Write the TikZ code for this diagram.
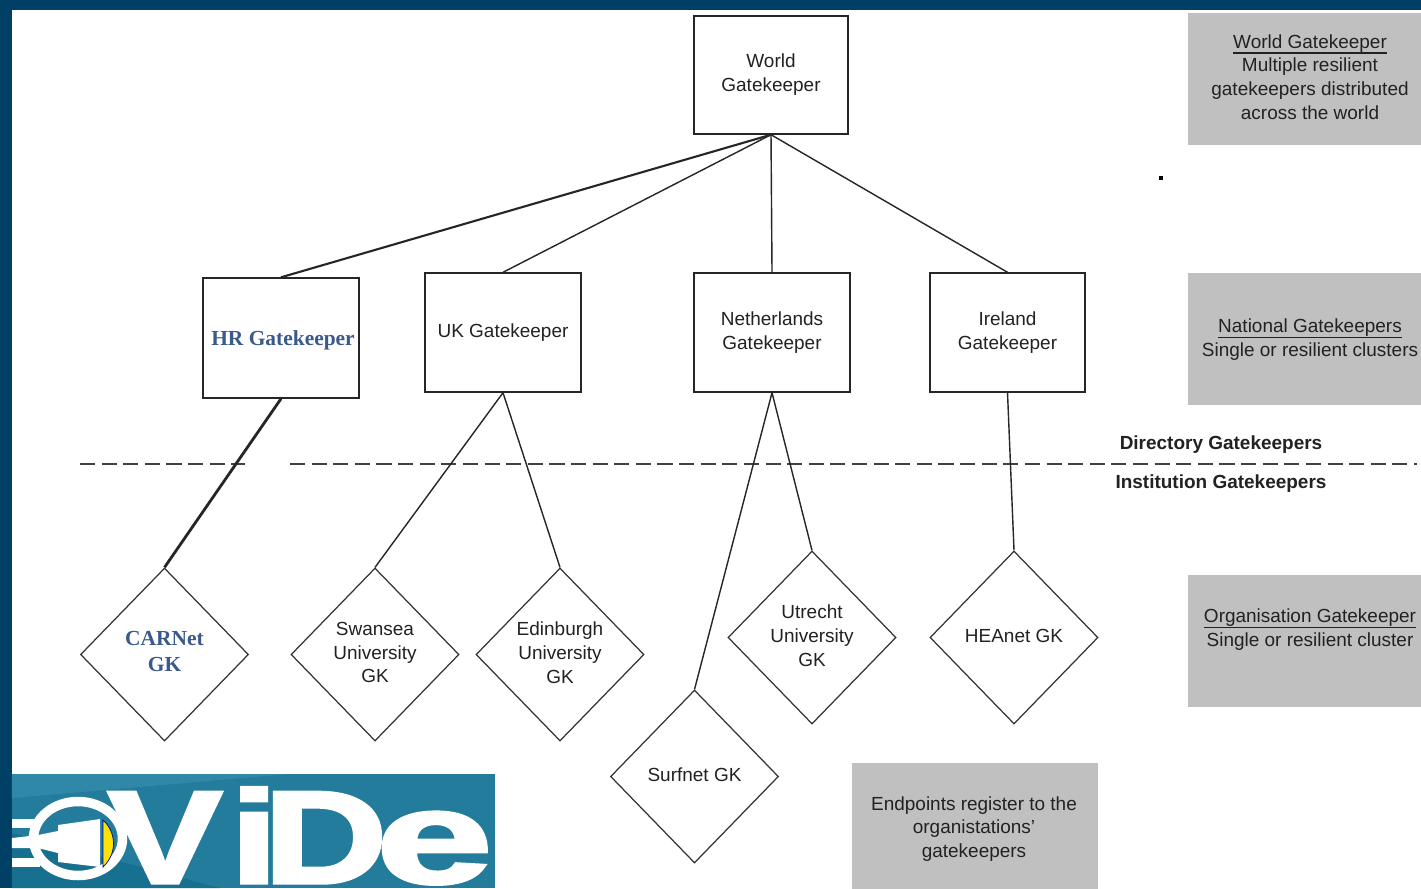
\documentclass[tikz,border=0pt]{standalone}
\usepackage{fontspec}
\setmainfont{Liberation Sans}
\newfontfamily\serifbold[Ligatures=TeX]{Liberation Serif}
\newfontfamily\logofont[FakeBold=2.5]{Liberation Sans Bold}
\usetikzlibrary{shapes.geometric}
\definecolor{framecol}{HTML}{003F66}
\definecolor{inkcol}{HTML}{222222}
\definecolor{notecol}{HTML}{C0C0C0}
\definecolor{hrcol}{HTML}{3A5A8C}
\definecolor{logocol}{HTML}{237C9C}
\definecolor{logolight}{HTML}{3088A8}
\definecolor{logodark}{HTML}{17708F}
\newcommand{\ruled}[1]{\underline{\smash{#1}}}
\newcommand{\lift}{\\[-5.6pt]\mbox{}}
\begin{document}
\begin{tikzpicture}
	[	box/.style={rectangle,draw=black!85,fill=white,line width=.4pt,minimum width=1.55cm,minimum height=1.19cm,inner sep=0pt,align=center,text=inkcol,font=\fontsize{5.4}{6.8}\selectfont},
	gk/.style={diamond,draw=black!80,fill=white,line width=.35pt,minimum width=1.68cm,minimum height=1.73cm,inner sep=0pt,align=center,text=inkcol,font=\fontsize{5.4}{6.8}\selectfont},
	note/.style={rectangle,draw=none,fill=notecol,inner sep=0pt},
	plain/.style={draw=none,fill=none,inner sep=0pt,align=center,text=inkcol,font=\fontsize{5.4}{6.8}\selectfont},
	hr/.style={text=hrcol,font=\fontsize{6.1}{7.4}\selectfont\serifbold\bfseries},
	link/.style={draw=black!85,line width=.4pt},
	tier/.style={draw=black!75,line width=.7pt,dash pattern=on 4.3pt off 1.85pt}
	]
	\useasboundingbox (0,0) rectangle (14.21,8.88);
	\clip (0,0) rectangle (14.21,8.88);
	\fill[framecol] (0,0) rectangle (14.21,8.88);
	\fill[white] (.12,0) rectangle (14.21,8.78);

	% grey notes
	\node[note,minimum width=2.44cm,minimum height=1.32cm] (noteworld) at (13.10,8.09){};
	\node[note,minimum width=2.44cm,minimum height=1.32cm] (notenat) at (13.10,5.49){};
	\node[note,minimum width=2.44cm,minimum height=1.32cm] (noteorg) at (13.10,2.47){};
	\node[note,minimum width=2.46cm,minimum height=1.40cm] (noteend) at (9.75,.55){};
	\node[plain] (textworld) at (13.10,8.04){\ruled{World Gatekeeper}\\Multiple resilient\\gatekeepers distributed\\across the world};
	\node[plain] (textnat) at (13.10,5.415){\ruled{National Gatekeepers}\\Single or resilient clusters};
	\node[plain] (textorg) at (13.10,2.515){\ruled{Organisation Gatekeeper}\\Single or resilient cluster};
	\node[plain] (textend) at (9.74,.59){Endpoints register to the\\organistations'\\gatekeepers};
	\node[draw=none,fill=black,minimum size=.04cm,inner sep=0pt] (speck) at (11.61,7.10){};

	% tier lines
	\coordinate (tierA) at (.80,4.24);
	\coordinate (tierB) at (2.45,4.24);
	\coordinate (tierC) at (2.90,4.24);
	\coordinate (tierD) at (14.17,4.24);
	\draw[tier] (tierA) -- (tierB);
	\draw[tier] (tierC) -- (tierD);
	\node[plain,font=\fontsize{5.4}{6.8}\selectfont\bfseries] (dirlabel) at (12.21,4.43){Directory Gatekeepers};
	\node[plain,font=\fontsize{5.4}{6.8}\selectfont\bfseries] (instlabel) at (12.21,4.04){Institution Gatekeepers};

	% gatekeepers
	\node[box,minimum width=1.54cm,minimum height=1.18cm] (world) at (7.71,8.13){World\\Gatekeeper};
	\node[box,minimum width=1.56cm,minimum height=1.20cm] (hrgk) at (2.81,5.50){};
	\node[plain,hr] (hrtext) at (2.83,5.48){HR Gatekeeper};
	\node[box,minimum width=1.56cm] (uk) at (5.03,5.555){UK Gatekeeper};
	\node[box,minimum width=1.56cm] (nl) at (7.72,5.555){Netherlands\\Gatekeeper};
	\node[box,minimum width=1.55cm] (ie) at (10.075,5.555){Ireland\\Gatekeeper};

	\node[gk,hr] (carnet) at (1.645,2.335){CARNet\\GK\lift};
	\node[gk] (swansea) at (3.75,2.335){Swansea\\University\\GK\lift};
	\node[gk] (edinburgh) at (5.60,2.335){Edinburgh\\University\\GK\lift};
	\node[gk] (utrecht) at (8.12,2.505){Utrecht\\University\\GK\lift};
	\node[gk] (heanet) at (10.14,2.505){HEAnet GK\lift};
	\node[gk] (surfnet) at (6.945,1.115){Surfnet GK\lift};

	% links
	\draw[link,line width=.6pt] (world.south) -- (hrgk.north);
	\draw[link] (world.south) -- (uk.north);
	\draw[link] (world.south) -- (nl.north);
	\draw[link] (world.south) -- (ie.north);
	\draw[link,line width=.8pt] (hrgk.south) -- (carnet.north);
	\draw[link] (uk.south) -- (swansea.north);
	\draw[link] (uk.south) -- (edinburgh.north);
	\draw[link] (nl.south) -- (surfnet.north);
	\draw[link] (nl.south) -- (utrecht.north);
	\draw[link] (ie.south) -- (heanet.north);

	% logo
	\begin{scope}
	\clip (.12,0) rectangle (4.95,1.14);
	\fill[logocol] (.12,0) rectangle (4.95,1.14);
	\fill[logodark] (.12,0) -- (2.2,0) -- (.12,.55) -- cycle;
	\fill[logolight] (.12,.90) -- (2.9,1.14) -- (.12,1.14) -- cycle;
	\draw[white,line width=2.7pt] (.78,.495) ellipse (.445 and .37);
	\fill[white] (.12,.60) rectangle (.40,.69);
	\fill[white] (.12,.21) rectangle (.40,.30);
	\fill[white] (.58,.63) -- (1,.69) -- (1,.21) -- (.58,.26) -- (.58,.35) -- (.38,.40) -- (.12,.40) -- (.12,.50) -- (.38,.53) -- (.58,.57) -- cycle;
	\fill[yellow!85!orange,draw=blue!60!black,line width=.2pt] (1.03,.68) .. controls (1.17,.55) and (1.17,.34) .. (1.03,.21) -- cycle;
	\node[anchor=base west,inner sep=0pt,xscale=1.3,text=white,font=\fontsize{37.5}{41}\selectfont\logofont] (logo) at (1.07,.05){V\kern1.8pt i\kern-3.2pt D\kern-2.4pt \scalebox{1.22}[1]{e}};
	\end{scope}
\end{tikzpicture}
\end{document}
